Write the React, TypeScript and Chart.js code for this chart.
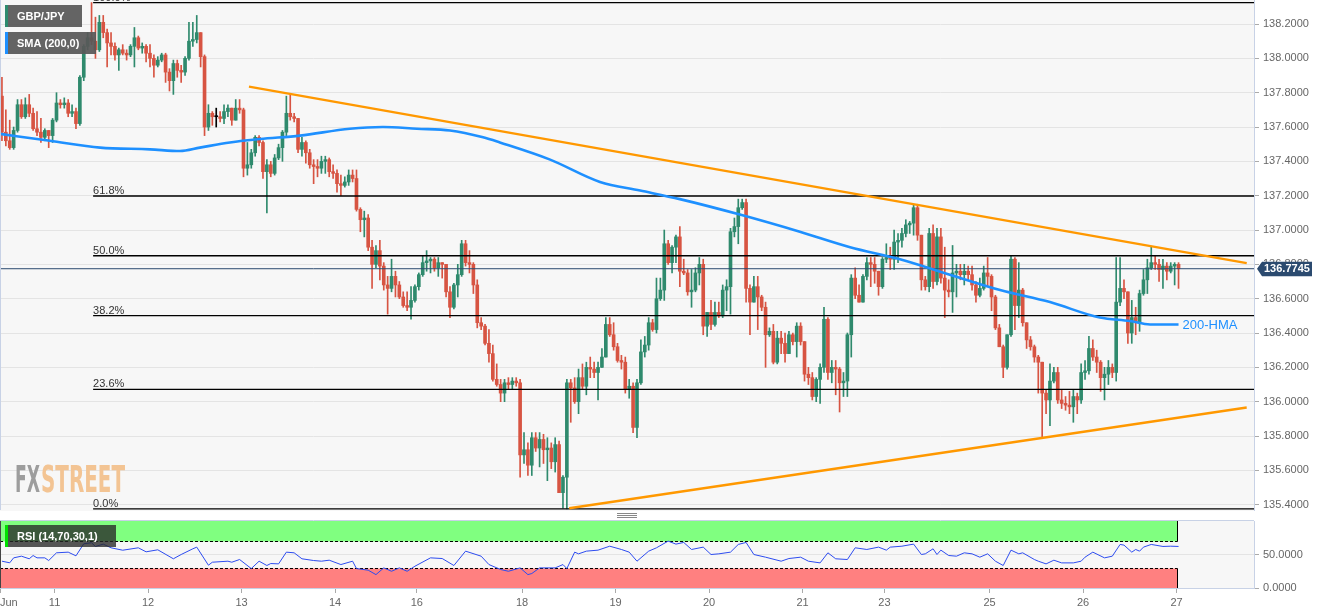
import React, { useEffect, useRef } from 'react';
import { Chart, registerables } from 'chart.js';

Chart.register(...registerables);

// ---------- data ----------
const dayTicks: [number, string][] = [
  [-0.5, 'Jun'], [13.5, '11'], [37.5, '12'], [61.5, '13'], [85.5, '14'], [106.5, '16'],
  [133.5, '18'], [157.5, '19'], [181.5, '20'], [205.5, '21'], [226.5, '23'],
  [253.5, '25'], [277.5, '26'], [301.5, '27'],
];

const priceTicks = [135.4, 135.6, 135.8, 136.0, 136.2, 136.4, 136.6, 136.8, 137.0, 137.2, 137.4, 137.6, 137.8, 138.0, 138.2];
const rsiTicks = [0, 50];

// hourly candles: [open, high, low, close]
const ohlc: [number, number, number, number][] = [
  [137.78,137.89,137.52,137.57],[137.57,137.70,137.49,137.52],[137.52,137.64,137.47,137.48],[137.48,137.60,137.47,137.58],
  [137.58,137.76,137.57,137.73],[137.73,137.76,137.65,137.66],[137.66,137.77,137.65,137.73],[137.73,137.79,137.66,137.68],
  [137.68,137.71,137.58,137.59],[137.59,137.69,137.55,137.57],[137.57,137.65,137.51,137.54],[137.54,137.59,137.52,137.58],
  [137.58,137.58,137.48,137.55],[137.55,137.65,137.51,137.64],[137.64,137.80,137.63,137.74],[137.74,137.76,137.71,137.73],
  [137.73,137.77,137.71,137.74],[137.74,137.76,137.66,137.68],[137.68,137.73,137.66,137.69],[137.69,137.71,137.59,137.62],
  [137.62,137.90,137.61,137.89],[137.89,138.08,137.87,138.07],[138.07,138.15,138.05,138.12],[138.12,138.325,138.08,138.10],
  [138.10,138.24,138.00,138.05],[138.05,138.25,138.04,138.21],[138.21,138.25,138.12,138.15],[138.15,138.17,137.95,138.09],
  [138.09,138.15,138.02,138.07],[138.07,138.09,137.99,138.02],[138.02,138.06,137.93,138.05],[138.05,138.08,138.02,138.03],
  [138.03,138.05,137.99,138.02],[138.02,138.08,138.01,138.07],[138.07,138.18,137.95,138.12],[138.12,138.13,138.05,138.06],
  [138.06,138.09,138.03,138.07],[138.07,138.08,137.98,138.03],[138.03,138.08,137.95,138.00],[138.00,138.02,137.89,137.96],
  [137.96,138.01,137.95,137.99],[137.99,138.03,137.98,138.02],[138.02,138.03,137.86,137.92],[137.92,137.94,137.81,137.87],
  [137.87,137.99,137.79,137.97],[137.97,137.99,137.89,137.93],[137.93,137.96,137.86,137.92],[137.92,138.01,137.90,138.00],
  [138.00,138.21,137.99,138.10],[138.10,138.21,138.07,138.11],[138.11,138.25,138.09,138.15],[138.15,138.15,137.95,138.01],
  [138.01,138.02,137.55,137.60],[137.60,137.73,137.58,137.68],[137.68,137.69,137.61,137.66],[137.66,137.71,137.60,137.66],
  [137.66,137.69,137.63,137.65],[137.65,137.73,137.62,137.69],[137.69,137.73,137.66,137.71],[137.71,137.71,137.61,137.64],
  [137.64,137.76,137.64,137.71],[137.71,137.76,137.68,137.70],[137.70,137.71,137.31,137.36],[137.36,137.51,137.32,137.38],
  [137.38,137.47,137.36,137.45],[137.45,137.55,137.43,137.54],[137.54,137.55,137.49,137.51],[137.51,137.52,137.30,137.34],
  [137.34,137.41,137.10,137.38],[137.38,137.40,137.31,137.33],[137.33,137.44,137.32,137.42],[137.42,137.50,137.41,137.48],
  [137.48,137.58,137.40,137.57],[137.57,137.78,137.55,137.68],[137.68,137.79,137.64,137.66],[137.66,137.68,137.63,137.65],
  [137.65,137.65,137.45,137.47],[137.47,137.54,137.43,137.51],[137.51,137.52,137.39,137.45],[137.45,137.47,137.36,137.38],
  [137.38,137.41,137.27,137.37],[137.37,137.41,137.31,137.36],[137.36,137.43,137.33,137.40],[137.40,137.43,137.33,137.41],
  [137.41,137.42,137.31,137.34],[137.34,137.38,137.30,137.33],[137.33,137.35,137.22,137.27],[137.27,137.32,137.20,137.26],
  [137.26,137.31,137.25,137.28],[137.28,137.35,137.26,137.32],[137.32,137.35,137.28,137.30],[137.30,137.35,137.11,137.12],
  [137.12,137.13,136.99,137.06],[137.06,137.11,136.96,137.07],[137.07,137.09,136.88,136.90],[136.90,136.94,136.66,136.80],
  [136.80,136.91,136.78,136.88],[136.88,136.94,136.71,136.79],[136.79,136.81,136.65,136.68],[136.68,136.73,136.51,136.66],
  [136.66,136.83,136.64,136.73],[136.73,136.76,136.61,136.68],[136.68,136.70,136.60,136.61],[136.61,136.64,136.55,136.56],
  [136.56,136.64,136.53,136.55],[136.55,136.67,136.48,136.59],[136.59,136.68,136.58,136.67],[136.67,136.75,136.65,136.74],
  [136.74,136.85,136.73,136.81],[136.81,136.88,136.76,136.82],[136.82,136.84,136.75,136.83],[136.83,136.84,136.76,136.78],
  [136.78,136.84,136.73,136.81],[136.81,136.81,136.72,136.80],[136.80,136.80,136.61,136.64],[136.64,136.67,136.49,136.55],
  [136.55,136.69,136.54,136.68],[136.68,136.80,136.61,136.74],[136.74,136.94,136.73,136.92],[136.92,136.94,136.79,136.81],
  [136.81,136.88,136.75,136.80],[136.80,136.81,136.63,136.68],[136.68,136.71,136.43,136.46],[136.46,136.49,136.42,136.44],
  [136.44,136.45,136.33,136.34],[136.34,136.42,136.23,136.28],[136.28,136.33,136.12,136.13],[136.13,136.22,136.09,136.10],
  [136.10,136.13,136.00,136.05],[136.05,136.13,136.00,136.11],[136.11,136.14,136.07,136.10],[136.10,136.14,136.07,136.12],
  [136.12,136.14,136.09,136.11],[136.11,136.13,135.56,135.69],[135.69,135.82,135.64,135.72],[135.72,135.76,135.57,135.63],
  [135.63,135.82,135.57,135.79],[135.79,135.82,135.71,135.73],[135.73,135.82,135.62,135.78],[135.78,135.81,135.64,135.72],
  [135.72,135.79,135.54,135.73],[135.73,135.76,135.61,135.65],[135.65,135.79,135.59,135.75],[135.75,135.77,135.47,135.47],
  [135.47,135.57,135.38,135.56],[135.56,136.13,135.375,136.11],[136.11,136.13,135.88,136.08],[136.08,136.14,135.99,136.00],
  [136.00,136.19,135.93,136.14],[136.14,136.22,136.07,136.09],[136.09,136.23,136.04,136.20],[136.20,136.26,136.14,136.19],
  [136.19,136.23,136.14,136.17],[136.17,136.23,136.01,136.20],[136.20,136.31,136.20,136.26],[136.26,136.49,136.26,136.45],
  [136.45,136.49,136.38,136.39],[136.39,136.46,136.30,136.32],[136.32,136.34,136.23,136.24],[136.24,136.27,136.19,136.23],
  [136.23,136.26,136.05,136.07],[136.07,136.13,136.02,136.09],[136.09,136.11,135.82,135.85],[135.85,136.13,135.79,136.11],
  [136.11,136.36,136.10,136.29],[136.29,136.38,136.26,136.33],[136.33,136.49,136.30,136.46],[136.46,136.48,136.41,136.42],
  [136.42,136.72,136.40,136.60],[136.60,136.72,136.59,136.65],[136.65,137.00,136.59,136.92],[136.92,136.94,136.80,136.81],
  [136.81,136.91,136.75,136.90],[136.90,136.97,136.81,136.96],[136.96,137.02,136.67,136.76],[136.76,136.83,136.74,136.75],
  [136.75,136.77,136.62,136.64],[136.64,136.77,136.55,136.65],[136.65,136.78,136.64,136.75],[136.75,136.84,136.68,136.80],
  [136.80,136.83,136.39,136.44],[136.44,136.52,136.38,136.52],[136.52,136.59,136.42,136.45],[136.45,136.58,136.44,136.52],
  [136.52,136.58,136.49,136.50],[136.50,136.68,136.49,136.65],[136.65,136.71,136.53,136.67],[136.67,137.01,136.51,136.99],
  [136.99,137.07,136.96,137.02],[137.02,137.18,136.92,137.13],[137.13,137.18,137.12,137.16],[137.16,137.18,136.58,136.66],
  [136.66,136.68,136.39,136.58],[136.58,136.73,136.58,136.67],[136.67,136.73,136.42,136.61],[136.61,136.62,136.53,136.55],
  [136.55,136.58,136.20,136.39],[136.39,136.43,136.38,136.41],[136.41,136.45,136.22,136.23],[136.23,136.41,136.22,136.37],
  [136.37,136.41,136.28,136.34],[136.34,136.40,136.23,136.28],[136.28,136.41,136.28,136.39],[136.39,136.40,136.33,136.35],
  [136.35,136.46,136.26,136.44],[136.44,136.46,136.33,136.35],[136.35,136.35,136.12,136.16],[136.16,136.20,136.10,136.14],
  [136.14,136.17,136.01,136.03],[136.03,136.14,136.00,136.13],[136.13,136.22,135.99,136.20],[136.20,136.55,136.17,136.48],
  [136.48,136.49,136.13,136.17],[136.17,136.24,136.11,136.20],[136.20,136.24,136.04,136.19],[136.19,136.20,135.94,136.11],
  [136.11,136.17,136.03,136.12],[136.12,136.40,136.03,136.39],[136.39,136.74,136.26,136.72],[136.72,136.78,136.60,136.62],
  [136.62,136.68,136.58,136.58],[136.58,136.74,136.58,136.73],[136.73,136.84,136.71,136.81],[136.81,136.84,136.67,136.80],
  [136.80,136.84,136.69,136.76],[136.76,136.76,136.62,136.67],[136.67,136.84,136.66,136.83],[136.83,136.92,136.81,136.84],
  [136.84,136.90,136.77,136.83],[136.83,137.00,136.77,136.93],[136.93,136.98,136.81,136.94],[136.94,137.01,136.90,136.98],
  [136.98,137.06,136.96,137.03],[137.03,137.05,136.98,137.04],[137.04,137.15,136.97,137.13],[137.13,137.15,136.94,136.97],
  [136.97,136.97,136.65,136.71],[136.71,136.73,136.65,136.67],[136.67,137.01,136.64,136.98],[136.98,137.03,136.66,136.70],
  [136.70,137.01,136.68,136.96],[136.96,137.01,136.69,136.72],[136.72,136.90,136.49,136.65],[136.65,136.71,136.61,136.64],
  [136.64,136.91,136.52,136.75],[136.75,136.80,136.61,136.76],[136.76,136.80,136.71,136.74],[136.74,136.80,136.68,136.76],
  [136.76,136.79,136.71,136.74],[136.74,136.79,136.65,136.68],[136.68,136.70,136.58,136.62],[136.62,136.72,136.61,136.66],
  [136.66,136.79,136.65,136.75],[136.75,136.84,136.67,136.73],[136.73,136.74,136.53,136.61],[136.61,136.62,136.42,136.43],
  [136.43,136.45,136.32,136.32],[136.32,136.33,136.14,136.20],[136.20,136.39,136.19,136.39],[136.39,136.85,136.38,136.83],
  [136.83,136.84,136.42,136.56],[136.56,136.81,136.49,136.65],[136.65,136.66,136.44,136.46],[136.46,136.46,136.31,136.36],
  [136.36,136.38,136.30,136.32],[136.32,136.33,136.23,136.26],[136.26,136.27,136.05,136.23],[136.23,136.23,135.79,136.05],
  [136.05,136.07,135.93,136.01],[136.01,136.22,135.86,136.12],[136.12,136.20,136.11,136.17],[136.17,136.20,135.99,136.01],
  [136.01,136.07,135.96,135.99],[135.99,136.03,135.95,135.98],[135.98,136.06,135.93,135.97],[135.97,136.07,135.88,136.03],
  [136.03,136.05,135.93,136.01],[136.01,136.22,135.99,136.17],[136.17,136.24,136.13,136.18],[136.18,136.38,136.16,136.31],
  [136.31,136.36,136.24,136.26],[136.26,136.30,136.17,136.23],[136.23,136.24,136.06,136.14],[136.14,136.20,136.01,136.16],
  [136.16,136.24,136.10,136.20],[136.20,136.22,136.14,136.17],[136.17,136.84,136.12,136.58],[136.58,136.84,136.56,136.66],
  [136.66,136.71,136.60,136.64],[136.64,136.64,136.34,136.40],[136.40,136.59,136.34,136.49],[136.49,136.55,136.39,136.46],
  [136.46,136.65,136.41,136.63],[136.63,136.77,136.62,136.71],[136.71,136.83,136.63,136.78],[136.78,136.90,136.77,136.81],
  [136.81,136.85,136.77,136.80],[136.80,136.83,136.70,136.77],[136.77,136.83,136.66,136.79],[136.79,136.81,136.71,136.76],
  [136.76,136.81,136.75,136.79],[136.79,136.81,136.68,136.80],[136.80,136.81,136.66,136.7745],
];

// 200-period moving average, sampled along the curve: [hour index, value]
const smaPoints: [number, number][] = [
  [-0.5,137.56],[12.3,137.52],[25.2,137.48],[38,137.47],[45.7,137.46],[50.8,137.48],[58.5,137.51],
  [66.2,137.53],[76.5,137.55],[89.3,137.59],[97.8,137.60],[106.5,137.59],[115,137.58],[123.5,137.54],
  [127.8,137.51],[140.7,137.41],[153.5,137.28],[163.8,137.23],[174,137.18],[189.4,137.09],[204.8,136.99],
  [217.7,136.90],[230.5,136.83],[243.3,136.74],[256.2,136.65],[269,136.58],[281.8,136.49],[289.5,136.47],
  [294.7,136.45],[302,136.45],
];

// RSI(14): [hour index, value]
const rsiPoints: [number, number][] = [
  [0,40],[2,37.6],[3,45],[5,47.5],[7,43.6],[8,48.5],[9,45],[11,45],[12,41],[14,52.5],[17,53.5],[19,48],
  [21,66],[23,67.5],[24,62],[26,65.5],[28,60],[31,56.4],[35,60],[37,54],[40,57],[44,43.6],[46,50],[49,58.5],
  [50,61],[53,34],[54,38.5],[58,40],[59,38.5],[61,42.5],[64,29],[66,40],[68,33.6],[69,36.5],[71,36],[73,53.5],
  [75,52.5],[77,43.6],[80,41],[82,40],[84,41.5],[87,35],[90,40],[91,29],[94,26.6],[96,20],[98,30],[100,25],
  [102,30],[104,25],[106,32.5],[110,45],[113,44],[116,33.6],[119,55],[123,47.5],[125,35],[128,27.6],[130,25],
  [133,30],[135,20],[136,21.6],[138,30],[142,30],[144,35],[145,29],[147,53.5],[148,51],[150,55],[153,56.5],
  [156,62.4],[159,57.5],[161,53.5],[163,40],[166,55],[168,60],[171,70],[173,65.5],[175,68],[177,57.5],[180,61],
  [182,50],[184,51],[187,53.5],[189,65],[191,68],[193,50],[196,46],[200,40],[202,44],[205,46],[207,40],
  [210,37.5],[212,52.5],[214,43.6],[217,42.5],[219,60],[222,57.5],[225,61],[227,56.5],[228,61],[231,62.4],
  [234,65.5],[236,50],[237,51],[239,58.5],[240,50],[241,56.5],[243,48.5],[245,47.5],[247,52.5],[249,51],
  [251,46],[253,51],[255,40],[257,33.6],[259,56.5],[261,51],[262,52.5],[265,42.5],[266,40],[268,36],
  [270,41.5],[272,37.5],[275,37.5],[277,40],[278,46],[280,53.5],[283,45],[285,47.5],[287,65],[288,64],
  [290,53.5],[291,57.5],[292,55],[293,61],[295,65],[298,62],[300,62.4],[302,62],
];

const fibHigh = 138.325;
const fibLow = 135.375;
const fibRatios = [0, 0.236, 0.382, 0.5, 0.618, 1];
const fibStart = 23.4;
const upperTrend: [number, number][] = [[63.4, 137.835], [319.5, 136.807]];
const lowerTrend: [number, number][] = [[145.6, 135.379], [319.5, 135.966]];
const lastPrice = 136.7745;
const rsiUpper = 70;
const rsiLower = 30;
const rsiZoneEnd = 301.6;

// ---------- layout / styling constants ----------
const X_MIN = -0.5;
const X_MAX = 321.37;
const W = 1331;
const AXIS_W = 77;
const MAIN_H = 519;
const RSI_H = 96;
const GREEN = '#2f8a6d';
const RED = '#d75442';
const FONT = '"Liberation Sans", Arial, sans-serif';
const BORDER = '#c8d2e6';

Chart.defaults.font.family = FONT;
Chart.defaults.font.size = 11;
Chart.defaults.color = '#666';

const pts = (arr: [number, number][]) => arr.map(([x, y]) => ({ x, y }));

function drawLegendBox(ctx: CanvasRenderingContext2D, x: number, y: number, w: number, h: number, fill: string, accent: string, text: string) {
  ctx.save();
  ctx.fillStyle = fill;
  ctx.fillRect(x, y, w, h);
  ctx.fillStyle = accent;
  ctx.fillRect(x, y, 3, h);
  ctx.fillStyle = '#ffffff';
  ctx.font = `bold 11px ${FONT}`;
  ctx.textBaseline = 'middle';
  ctx.textAlign = 'left';
  ctx.fillText(text, x + 12, y + h / 2 + 0.5);
  ctx.restore();
}

const mainDecor = {
  id: 'mainDecor',
  beforeDraw(chart: any) {
    const { ctx, chartArea: a } = chart;
    ctx.save();
    ctx.fillStyle = '#f7f7f7';
    ctx.fillRect(a.left, a.top, a.right - a.left, a.bottom - a.top + 1);
    ctx.restore();
  },
  beforeDatasetsDraw(chart: any) {
    const { ctx } = chart;
    ctx.save();
    ctx.font = `bold 38px "Liberation Sans Narrow", "DejaVu Sans Condensed", ${FONT}`;
    ctx.textBaseline = 'alphabetic';
    const parts: [string, string, number, number][] = [['FX', '#9d9d9d', 15, 25], ['STREET', '#f3c493', 41, 84]];
    for (const [t, col, x, w] of parts) {
      const m = ctx.measureText(t).width;
      ctx.save();
      ctx.translate(x, 492);
      ctx.scale(w / m, 1);
      ctx.fillStyle = col;
      ctx.fillText(t, 0, 0);
      ctx.restore();
    }
    ctx.restore();
  },
  afterDatasetsDraw(chart: any) {
    const { ctx, scales } = chart;
    const xs = scales.x;
    const ys = scales.y;
    ctx.save();
    // fib labels
    ctx.font = `11px ${FONT}`;
    ctx.fillStyle = '#333';
    ctx.textAlign = 'left';
    ctx.textBaseline = 'alphabetic';
    const fx = xs.getPixelForValue(fibStart);
    fibRatios.forEach((r) => {
      const v = fibLow + r * (fibHigh - fibLow);
      const y = ys.getPixelForValue(v);
      ctx.fillText(`${(r * 100).toFixed(1)}%`, fx, y - 2);
    });
    // 200-HMA label
    const last = smaPoints[smaPoints.length - 1];
    ctx.font = `13px ${FONT}`;
    ctx.fillStyle = '#1e90ff';
    ctx.textBaseline = 'middle';
    ctx.fillText('200-HMA', xs.getPixelForValue(last[0]) + 4, ys.getPixelForValue(last[1]) + 1);
    // last price label
    const py = ys.getPixelForValue(lastPrice);
    const left = chart.chartArea.right + 3;
    ctx.fillStyle = '#2b4a6f';
    ctx.beginPath();
    ctx.moveTo(left, py);
    ctx.lineTo(left + 5, py - 7);
    ctx.lineTo(left + 55, py - 7);
    ctx.lineTo(left + 55, py + 7.5);
    ctx.lineTo(left + 5, py + 7.5);
    ctx.closePath();
    ctx.fill();
    ctx.fillStyle = '#ffffff';
    ctx.font = `bold 11px ${FONT}`;
    ctx.textBaseline = 'middle';
    ctx.fillText(lastPrice.toFixed(4), left + 7, py + 0.5);
    ctx.restore();
  },
  afterDraw(chart: any) {
    const { ctx, chartArea: a } = chart;
    ctx.save();
    ctx.strokeStyle = BORDER;
    ctx.lineWidth = 1;
    ctx.beginPath();
    ctx.moveTo(0.5, a.top);
    ctx.lineTo(0.5, a.bottom);
    ctx.stroke();
    // splitter handle
    ctx.strokeStyle = '#888';
    for (const hy of [513.5, 515.5, 517.5]) {
      ctx.beginPath();
      ctx.moveTo(617, hy);
      ctx.lineTo(637, hy);
      ctx.stroke();
    }
    ctx.restore();
    drawLegendBox(ctx, 5, 5, 77, 22, 'rgba(88,88,88,0.93)', '#2e8b6e', 'GBP/JPY');
    drawLegendBox(ctx, 5, 32, 91, 22, 'rgba(88,88,88,0.93)', '#1e90ff', 'SMA (200,0)');
  },
};

const rsiDecor = {
  id: 'rsiDecor',
  beforeDraw(chart: any) {
    const { ctx, chartArea: a } = chart;
    ctx.save();
    ctx.fillStyle = '#f7f7f7';
    ctx.fillRect(a.left, a.top, a.right - a.left, a.bottom - a.top);
    ctx.restore();
  },
  beforeDatasetsDraw(chart: any) {
    const { ctx, chartArea: a, scales } = chart;
    const xs = scales.x;
    const ys = scales.y;
    const x0 = a.left;
    const x1 = Math.round(xs.getPixelForValue(rsiZoneEnd)) + 0.5;
    const y100 = ys.getPixelForValue(100);
    const yU = Math.round(ys.getPixelForValue(rsiUpper)) + 0.5;
    const yL = Math.round(ys.getPixelForValue(rsiLower)) + 0.5;
    const y0 = ys.getPixelForValue(0);
    ctx.save();
    ctx.fillStyle = '#80ff80';
    ctx.fillRect(x0, y100, x1 - x0, yU - y100);
    ctx.fillStyle = '#ff8080';
    ctx.fillRect(x0, yL, x1 - x0, y0 - yL);
    ctx.strokeStyle = '#000';
    ctx.lineWidth = 1;
    ctx.setLineDash([3, 2]);
    ctx.beginPath();
    ctx.moveTo(x0, yU); ctx.lineTo(x1, yU);
    ctx.moveTo(x0, yL); ctx.lineTo(x1, yL);
    ctx.stroke();
    ctx.setLineDash([]);
    ctx.beginPath();
    ctx.moveTo(x1, y100); ctx.lineTo(x1, yU);
    ctx.moveTo(x1, yL); ctx.lineTo(x1, y0);
    ctx.stroke();
    ctx.strokeStyle = '#444';
    ctx.beginPath();
    ctx.moveTo(0.5, y100); ctx.lineTo(0.5, y0);
    ctx.stroke();
    ctx.restore();
  },
  afterDraw(chart: any) {
    const { ctx, chartArea: a } = chart;
    ctx.save();
    ctx.strokeStyle = BORDER;
    ctx.lineWidth = 1;
    ctx.beginPath();
    ctx.moveTo(0, a.top - 0.5); ctx.lineTo(a.right, a.top - 0.5);
    ctx.moveTo(0, a.bottom + 0.5); ctx.lineTo(a.right, a.bottom + 0.5);
    ctx.stroke();
    ctx.restore();
    drawLegendBox(ctx, 5, 6, 111, 22, 'rgba(40,40,40,0.78)', '#00e000', 'RSI (14,70,30,1)');
  },
};

function lineDs(data: any[], color: string, width: number, order: number, extra: any = {}) {
  return {
    type: 'line',
    data,
    borderColor: color,
    borderWidth: width,
    pointRadius: 0,
    fill: false,
    tension: 0,
    order,
    ...extra,
  };
}

function buildMain(canvas: HTMLCanvasElement) {
  const colors = ohlc.map(([o, , , c]) => (c > o ? GREEN : c < o ? RED : '#000'));
  const bodies = ohlc.map(([o, , , c], i) => ({ x: i, y: [o, c] }));
  const wicks = ohlc.map(([, h, l], i) => ({ x: i, y: [l, h] }));
  const fibSets = fibRatios.map((r) => {
    const v = fibLow + r * (fibHigh - fibLow);
    return lineDs([{ x: fibStart, y: v }, { x: X_MAX, y: v }], '#000', 1.3, 3);
  });
  return new Chart(canvas, {
    type: 'bar',
    data: {
      datasets: [
        { type: 'bar', data: bodies, backgroundColor: colors, barThickness: 3, minBarLength: 1, grouped: false, order: 10, borderWidth: 0 },
        { type: 'bar', data: wicks, backgroundColor: colors, barThickness: 1, grouped: false, order: 11, borderWidth: 0 },
        lineDs(pts(smaPoints), '#1e90ff', 2.6, 2, { cubicInterpolationMode: 'monotone' }),
        lineDs(pts(upperTrend), '#ff9800', 2.4, 1),
        lineDs(pts(lowerTrend), '#ff9800', 2.4, 1),
        ...fibSets,
        lineDs([{ x: X_MIN, y: lastPrice }, { x: X_MAX, y: lastPrice }], '#2b4a6f', 1, 4),
      ] as any,
    },
    options: {
      responsive: false,
      animation: false,
      events: [],
      layout: { padding: { top: 0, left: 0, right: 0, bottom: MAIN_H - 510 } },
      plugins: { legend: { display: false }, tooltip: { enabled: false } },
      scales: {
        x: { type: 'linear', min: X_MIN, max: X_MAX, display: false, offset: false },
        y: {
          type: 'linear',
          position: 'right',
          min: 135.369,
          max: 138.34,
          afterBuildTicks: (s: any) => { s.ticks = priceTicks.map((v) => ({ value: v })); },
          afterFit: (s: any) => { s.width = AXIS_W; s.paddingTop = 0; s.paddingBottom = 0; },
          ticks: { autoSkip: false, padding: 4, color: '#666', font: { size: 11 }, callback: (v: any) => Number(v).toFixed(4) },
          grid: { color: '#e4e4e4', lineWidth: 1, tickLength: 5, tickColor: '#aaa' },
          border: { display: true, color: BORDER, width: 1 },
        },
      },
    } as any,
    plugins: [mainDecor as any],
  });
}

function buildRsi(canvas: HTMLCanvasElement) {
  const labelMap = new Map<number, string>(dayTicks);
  return new Chart(canvas, {
    type: 'line',
    data: {
      datasets: [lineDs(pts(rsiPoints), '#2d4cf0', 1, 1) as any],
    },
    options: {
      responsive: false,
      animation: false,
      events: [],
      layout: { padding: { top: 2, left: 0, right: 0, bottom: 0 } },
      plugins: { legend: { display: false }, tooltip: { enabled: false } },
      scales: {
        x: {
          type: 'linear',
          min: X_MIN,
          max: X_MAX,
          offset: false,
          afterBuildTicks: (s: any) => { s.ticks = [...dayTicks.map(([v]) => ({ value: v })), { value: X_MAX }]; },
          afterFit: (s: any) => { s.height = 27; s.paddingLeft = 0; s.paddingRight = 0; },
          ticks: {
            autoSkip: false,
            maxRotation: 0,
            minRotation: 0,
            align: 'inner',
            padding: 3,
            color: '#666',
            font: { size: 11 },
            callback: (v: any) => labelMap.get(Number(v)) ?? '',
          },
          grid: {
            drawOnChartArea: false,
            tickLength: 5,
            tickColor: (c: any) => (c.tick && labelMap.has(c.tick.value) ? '#aaa' : 'rgba(0,0,0,0)'),
          },
          border: { display: true, color: BORDER },
        },
        y: {
          type: 'linear',
          position: 'right',
          min: 0,
          max: 100,
          afterBuildTicks: (s: any) => { s.ticks = rsiTicks.map((v) => ({ value: v })); },
          afterFit: (s: any) => { s.width = AXIS_W; s.paddingTop = 0; s.paddingBottom = 0; },
          ticks: { autoSkip: false, padding: 4, color: '#666', font: { size: 11 }, callback: (v: any) => Number(v).toFixed(4) },
          grid: { color: '#e4e4e4', tickLength: 5, tickColor: '#aaa' },
          border: { display: true, color: BORDER },
        },
      },
    } as any,
    plugins: [rsiDecor as any],
  });
}

export default function App() {
  const mainRef = useRef<HTMLCanvasElement>(null);
  const rsiRef = useRef<HTMLCanvasElement>(null);

  useEffect(() => {
    document.body.style.margin = '0';
    const c1 = buildMain(mainRef.current as HTMLCanvasElement);
    const c2 = buildRsi(rsiRef.current as HTMLCanvasElement);
    return () => {
      c1.destroy();
      c2.destroy();
    };
  }, []);

  return (
    <div style={{ position: 'relative', width: W, height: MAIN_H + RSI_H, background: '#ffffff' }}>
      <canvas ref={mainRef} width={W} height={MAIN_H} style={{ display: 'block', width: W, height: MAIN_H }} />
      <canvas ref={rsiRef} width={W} height={RSI_H} style={{ display: 'block', width: W, height: RSI_H }} />
    </div>
  );
}
